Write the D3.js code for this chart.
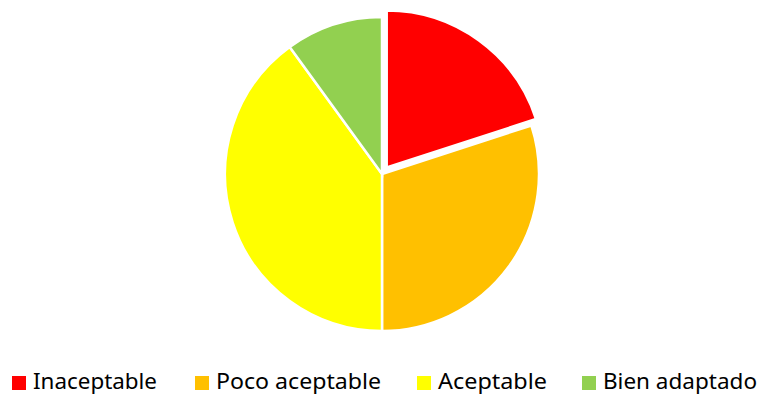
<!DOCTYPE html>
<html lang="es">
<head>
  <meta charset="UTF-8">
  <title>pie</title>
  <script src="https://cdn.jsdelivr.net/npm/d3@7"></script>
  <style>
    body { margin: 0; background: #fff; }
    svg { display: block; }
    .legend text { font-family: "Noto Sans", sans-serif; font-size: 21px; fill: #000; }
  </style>
</head>
<body>
  <script>
    var categories = ['Inaceptable', 'Poco aceptable', 'Aceptable', 'Bien adaptado'];
    var values = [20, 30, 40, 10];
    var colors = ['#ff0000', '#ffc000', '#ffff00', '#92d050'];
    var exploded = [8, 0, 0, 0];

    var w = 762, h = 394;
    var cx = 382, cy = 174, r = 157;

    var svg = d3.select('body').append('svg')
      .attr('width', w)
      .attr('height', h);

    var pie = d3.pie().sort(null).value(function (d) { return d; });
    var arc = d3.arc().innerRadius(0).outerRadius(r);

    var g = svg.append('g').attr('transform', 'translate(' + cx + ',' + cy + ')');

    g.selectAll('path')
      .data(pie(values))
      .enter().append('path')
      .attr('d', arc)
      .attr('fill', function (d, i) { return colors[i]; })
      .attr('stroke', '#fff')
      .attr('stroke-width', 2.5)
      .attr('transform', function (d, i) {
        var a = (d.startAngle + d.endAngle) / 2;
        return 'translate(' + (Math.sin(a) * exploded[i]) + ',' + (-Math.cos(a) * exploded[i]) + ')';
      });

    // legend
    var legX = [12, 195, 417, 582];
    var legW = [124, 165, 109, 154];
    var leg = svg.append('g').attr('class', 'legend');
    var item = leg.selectAll('g')
      .data(categories)
      .enter().append('g')
      .attr('transform', function (d, i) { return 'translate(' + legX[i] + ',0)'; });

    item.append('rect')
      .attr('x', 0).attr('y', 376)
      .attr('width', 14).attr('height', 14)
      .attr('fill', function (d, i) { return colors[i]; });

    item.append('text')
      .attr('x', 21).attr('y', 389)
      .attr('textLength', function (d, i) { return legW[i]; })
      .attr('lengthAdjust', 'spacingAndGlyphs')
      .text(function (d) { return d; });
  </script>
</body>
</html>
